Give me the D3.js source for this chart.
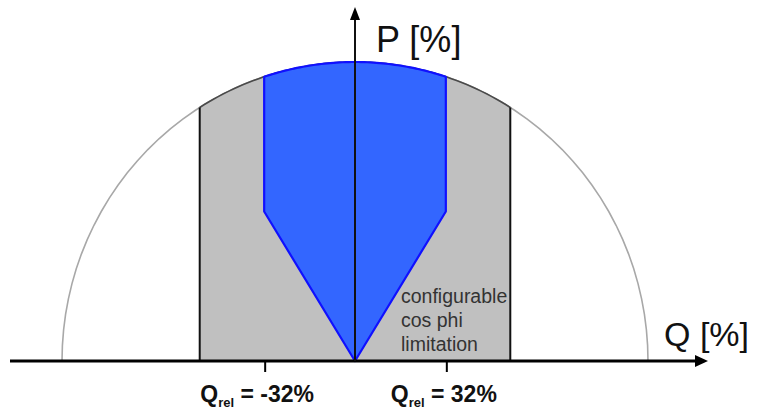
<!DOCTYPE html>
<html>
<head>
<meta charset="utf-8">
<script src="https://cdn.jsdelivr.net/npm/d3@7"></script>
<style>
  body { margin: 0; background: #fff; }
  svg { display: block; font-family: "Liberation Sans", Arial, sans-serif; }
</style>
</head>
<body>
<svg width="759" height="410"></svg>
<script>
// values (Q and P in % of rated power)
var radius = 100;                 // capability circle
var greyLimits = [-53, 53];       // Q range of the grey band
var blueLimits = [-31, 31];       // Q_rel limits of the blue area
var kneeP = 50;                   // P where the cos phi limitation starts
var tickQ = [-31, 31];
var tickText = ["-32%", "32%"];
var noteLines = ["configurable", "cos phi", "limitation"];

var svg = d3.select("svg");

var x = d3.scaleLinear().domain([-100, 100]).range([62, 648]);
var y = d3.scaleLinear().domain([0, 100]).range([361, 62]);

var line = d3.line().x(d => x(d[0])).y(d => y(d[1]));

// points on the circle between two Q values
function arcPts(q0, q1) {
  var a0 = Math.acos(q0 / radius), a1 = Math.acos(q1 / radius);
  return d3.range(0, 61).map(i => {
    var a = a0 + (a1 - a0) * i / 60;
    return [radius * Math.cos(a), radius * Math.sin(a)];
  });
}

// full outline of the circle (light grey)
svg.append("path")
  .attr("d", line(arcPts(-radius, radius)))
  .style("fill", "none")
  .style("stroke", "#a8a8a8")
  .style("stroke-width", 1.6);

// grey band
var greyPts = [[greyLimits[0], 0]].concat(arcPts(greyLimits[0], greyLimits[1]), [[greyLimits[1], 0]]);
svg.append("path")
  .attr("d", line(greyPts) + "Z")
  .style("fill", "#c0c0c0")
  .style("stroke", "none");

svg.append("path")
  .attr("d", line(arcPts(greyLimits[0], greyLimits[1])))
  .style("fill", "none")
  .style("stroke", "#4a4a4a")
  .style("stroke-width", 1.6);

svg.selectAll(".glim")
  .data(greyLimits)
  .enter()
  .append("line")
  .attr("x1", d => x(d))
  .attr("x2", d => x(d))
  .attr("y1", y(0))
  .attr("y2", d => y(Math.sqrt(radius * radius - d * d)))
  .style("stroke", "#111")
  .style("stroke-width", 2);

// blue allowed area
var bluePts = [[0, 0], [blueLimits[0], kneeP]]
  .concat(arcPts(blueLimits[0], blueLimits[1]), [[blueLimits[1], kneeP]]);
svg.append("path")
  .attr("d", line(bluePts) + "Z")
  .style("fill", "#3366ff")
  .style("stroke", "#1010ff")
  .style("stroke-width", 2.2)
  .style("stroke-linejoin", "round");

// axes
svg.append("line")
  .attr("x1", 10).attr("x2", 698)
  .attr("y1", y(0)).attr("y2", y(0))
  .style("stroke", "#000").style("stroke-width", 3);
svg.append("path")
  .attr("d", "M708," + y(0) + "L695," + (y(0) - 6) + "L695," + (y(0) + 6) + "Z")
  .style("fill", "#000");

svg.append("line")
  .attr("x1", x(0)).attr("x2", x(0))
  .attr("y1", y(0)).attr("y2", 18)
  .style("stroke", "#111").style("stroke-width", 2);
svg.append("path")
  .attr("d", "M" + x(0) + ",7L" + (x(0) - 5) + ",20L" + (x(0) + 5) + ",20Z")
  .style("fill", "#000");

// ticks and labels under the Q axis
svg.selectAll(".tick")
  .data(tickQ)
  .enter()
  .append("line")
  .attr("x1", d => x(d) + 1).attr("x2", d => x(d) + 1)
  .attr("y1", y(0)).attr("y2", y(0) + 11)
  .style("stroke", "#000").style("stroke-width", 2);

var lab = svg.selectAll(".qlab")
  .data(tickQ)
  .enter()
  .append("text")
  .attr("x", (d, i) => x(d) - 2 + (i ? 0 : -5))
  .attr("y", 402)
  .attr("text-anchor", "middle")
  .style("font-weight", "bold")
  .style("font-size", "23px")
  .style("letter-spacing", "0px")
  .style("fill", "#111");
lab.append("tspan").text("Q");
lab.append("tspan").attr("dy", 5).style("font-size", "13px").text("rel");
lab.append("tspan").attr("dy", -5).text((d, i) => " = " + tickText[i]);

// axis titles
svg.append("text")
  .attr("x", 376).attr("y", 52)
  .style("font-size", "36px")
  .style("fill", "#111")
  .text("P [%]");

svg.append("text")
  .attr("x", 664).attr("y", 346)
  .style("font-size", "34px")
  .style("fill", "#111")
  .text("Q [%]");

// note in the grey band
svg.selectAll(".note")
  .data(noteLines)
  .enter()
  .append("text")
  .attr("x", 401)
  .attr("y", (d, i) => 303 + i * 24)
  .style("font-size", "19.5px")
  .style("fill", "#333")
  .text(d => d);
</script>
</body>
</html>
